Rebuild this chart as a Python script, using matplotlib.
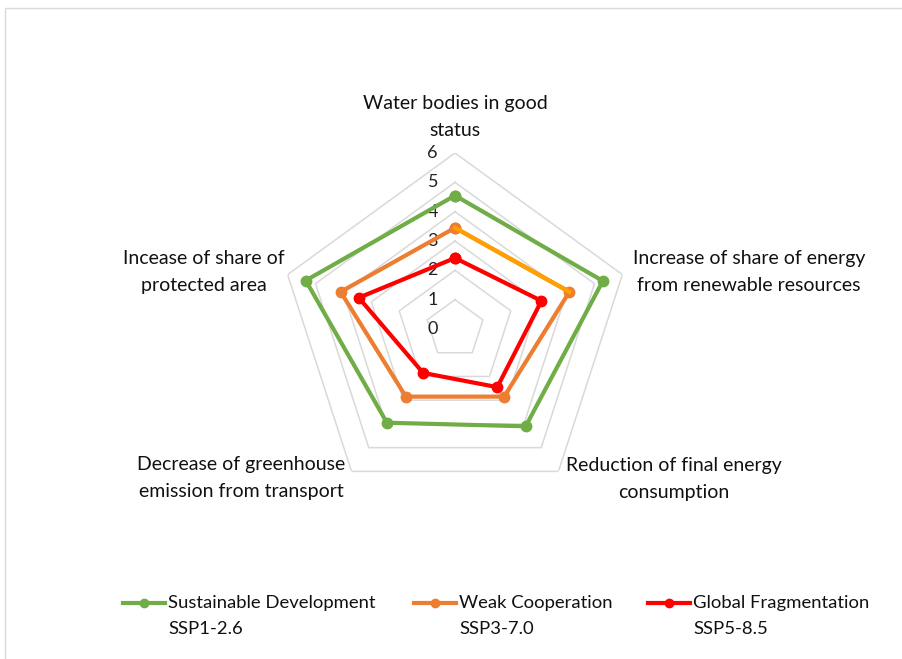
import numpy as np
import matplotlib
matplotlib.use("Agg")
import matplotlib.pyplot as plt
from matplotlib.patches import Rectangle
from matplotlib.transforms import offset_copy

plt.rcParams['font.family'] = ['Lato', 'DejaVu Sans']

categories = ["Water bodies in good\nstatus",
              "Increase of share of energy\nfrom renewable resources",
              "Reduction of final energy\nconsumption",
              "Decrease of greenhouse\nemission from transport",
              "Incease of share of\nprotected area"]
series_names = ["Sustainable Development\nSSP1-2.6",
                "Weak Cooperation\nSSP3-7.0",
                "Global Fragmentation\nSSP5-8.5"]
sustainable = [4.55, 5.3, 4.1, 3.95, 5.35]
weak = [3.45, 4.1, 2.85, 2.85, 4.1]
fragmented = [2.42, 3.1, 2.45, 1.85, 3.45]
colors = ["#70AD47", "#ED7D31", "#FF0000"]
ticks = [0, 1, 2, 3, 4, 5, 6]

W, H = 903, 659
fig = plt.figure(figsize=(W / 100, H / 100), dpi=100)
fig.patches.append(Rectangle((5 / W, -0.1), 1.2, 1 - 8 / H + 0.1,
                             transform=fig.transFigure, fill=False,
                             edgecolor="#D9D9D9", lw=1))

cx, cy, R = 455, 329, 176
ax = fig.add_axes([(cx - R) / W, (H - cy - R) / H, 2 * R / W, 2 * R / H],
                  projection='polar')
ax.set_theta_offset(np.pi / 2)
ax.set_theta_direction(-1)
ax.set_ylim(0, 6)
ax.set_xticks([])
ax.set_yticks([])
ax.grid(False)
ax.spines['polar'].set_visible(False)
ax.patch.set_alpha(0)

n = len(categories)
theta = np.linspace(0, 2 * np.pi, n, endpoint=False)
theta_c = np.append(theta, theta[0])

for t in ticks[1:]:
    ax.plot(theta_c, [t] * (n + 1), color="#D9D9D9", lw=1.1, zorder=1)

tick_tr = offset_copy(ax.transData, fig=fig, x=-17, y=0, units='dots')
for t in ticks:
    ax.text(0, t, str(t), transform=tick_tr, ha='right', va='center',
            fontsize=13, color="#222222")

for vals, col in zip([sustainable, weak, fragmented], colors):
    v = np.append(vals, vals[0])
    ax.plot(theta_c, v, color=col, lw=3, marker='o', ms=7.5, zorder=3)
# the first orange segment is drawn in a lighter orange in the original
ax.plot(theta[:2], weak[:2], color="#FFA000", lw=3, zorder=3)

label_pos = [(0.0, 7.22, 'center'),
             (np.deg2rad(72.2), 6.36, 'left'),
             (np.deg2rad(143.5), 6.35, 'left'),
             (np.deg2rad(216.3), 6.3, 'right'),
             (np.deg2rad(288.4), 6.13, 'right')]
for lab, (th, r, ha) in zip(categories, label_pos):
    ax.text(th, r, lab, ha=ha, va='center', multialignment='center',
            fontsize=14, linespacing=1.7, color="#111111")

# legend
lax = fig.add_axes([0, 0, 1, 1])
lax.set_xlim(0, W)
lax.set_ylim(H, 0)
lax.axis('off')
leg_x = [123, 414, 648]
for x0, col, name in zip(leg_x, colors, series_names):
    lax.plot([x0, x0 + 42], [603, 603], color=col, lw=3)
    lax.plot([x0 + 21], [603], color=col, marker='o', ms=6)
    lax.text(x0 + 45, 603, name, ha='left', va='top', fontsize=13.3,
             linespacing=1.75, color="#111111",
             transform=offset_copy(lax.transData, fig=fig, x=0, y=8, units='dots'))

fig.savefig("out.png", dpi=100)
